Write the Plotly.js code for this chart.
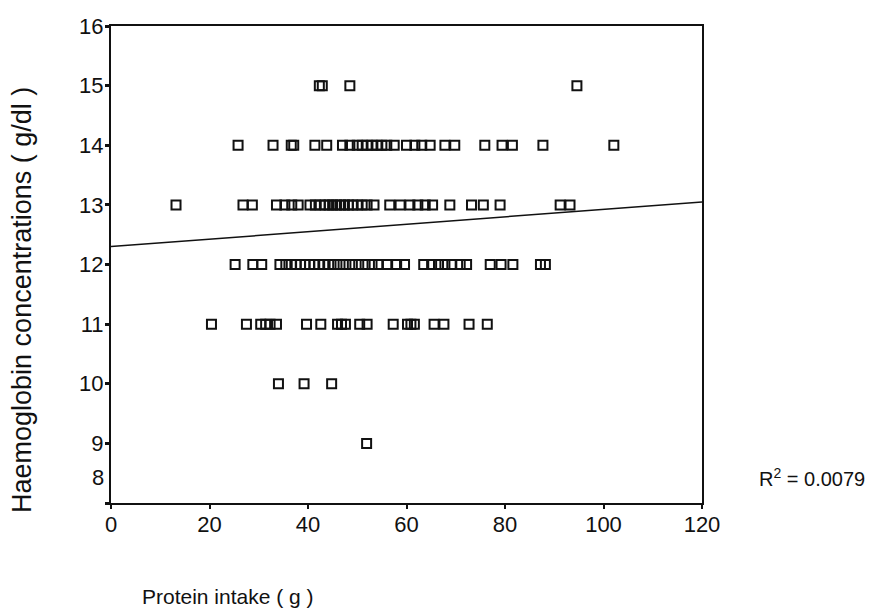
<!DOCTYPE html>
<html>
<head>
<meta charset="utf-8">
<script src="https://cdn.plot.ly/plotly-3.0.1.min.js"></script>
<style>html,body{margin:0;padding:0;background:#fff;}#chart{width:874px;height:610px;}</style>
</head>
<body>
<div id="chart"></div>
<script>
// Observed points (protein intake in g, haemoglobin in g/dl)
const protein = [
  42.3, 42.9, 48.5, 94.6,
  25.8, 32.9, 36.6, 37.1, 41.4, 43.8, 47, 48.5, 50, 51, 52, 53, 54, 55, 56, 57.5, 60, 61.7, 63.1, 64.8, 67.8, 69.8, 75.9, 79.4, 81.5, 87.7, 102.1,
  13.2, 26.8, 28.7, 33.6, 35.3, 36.7, 38, 40.4, 41.5, 42.5, 43.5, 44.3, 45, 45.8, 46.6, 47.4, 48.2, 49, 50, 51, 52, 53.4, 56.6, 58.7, 60.7, 62.3, 63.8, 65.3, 68.8, 73.2, 75.6, 79, 91.2, 93.2,
  25.2, 28.8, 30.6, 34.3, 35.5, 36.6, 37.6, 38.5, 39.4, 40.3, 41.2, 42.2, 43.2, 44.2, 45.3, 46.5, 47.7, 49, 50.3, 51.6, 53, 54.3, 56, 58, 59.6, 63.5, 65.1, 66.5, 67.8, 69.2, 70.9, 72.2, 77, 79.2, 81.6, 87.2, 88.2,
  20.4, 27.5, 30.4, 31.4, 32.3, 33.6, 39.7, 42.6, 46, 46.8, 47.6, 50.5, 52, 57.3, 60.2, 60.9, 61.6, 65.6, 67.6, 72.7, 76.4,
  34, 39.2, 44.8,
  51.9
];
const haemoglobin = [
  15, 15, 15, 15,
  14, 14, 14, 14, 14, 14, 14, 14, 14, 14, 14, 14, 14, 14, 14, 14, 14, 14, 14, 14, 14, 14, 14, 14, 14, 14, 14,
  13, 13, 13, 13, 13, 13, 13, 13, 13, 13, 13, 13, 13, 13, 13, 13, 13, 13, 13, 13, 13, 13, 13, 13, 13, 13, 13, 13, 13, 13, 13, 13, 13, 13,
  12, 12, 12, 12, 12, 12, 12, 12, 12, 12, 12, 12, 12, 12, 12, 12, 12, 12, 12, 12, 12, 12, 12, 12, 12, 12, 12, 12, 12, 12, 12, 12, 12, 12, 12, 12, 12,
  11, 11, 11, 11, 11, 11, 11, 11, 11, 11, 11, 11, 11, 11, 11, 11, 11, 11, 11, 11, 11,
  10, 10, 10,
  9
];
// Fitted linear regression line endpoints
const fitX = [0, 120];
const fitY = [12.3, 13.05];
// Axis ticks
const xTicks = [0, 20, 40, 60, 80, 100, 120];
const yTicks = [8, 9, 10, 11, 12, 13, 14, 15, 16];
const yTickText = ['', '9', '10', '11', '12', '13', '14', '15', '16'];
const rSquared = '0.0079';

const font = '"Liberation Sans", Arial, sans-serif';

const traces = [
  {
    x: fitX, y: fitY, type: 'scatter', mode: 'lines',
    line: {color: '#111', width: 1.5}, hoverinfo: 'skip', showlegend: false
  },
  {
    x: protein, y: haemoglobin, type: 'scatter', mode: 'markers',
    marker: {symbol: 'square-open', size: 9, color: '#111', line: {color: '#111', width: 2}},
    showlegend: false
  }
];

const layout = {
  width: 874, height: 610,
  margin: {l: 111, r: 172, t: 26, b: 107},
  paper_bgcolor: '#ffffff', plot_bgcolor: '#ffffff',
  showlegend: false,
  xaxis: {
    range: [0, 120], tickvals: xTicks, ticks: 'outside', ticklen: 4, tickwidth: 2, tickcolor: '#111',
    showline: true, linecolor: '#111', linewidth: 2, mirror: true,
    showgrid: false, zeroline: false, ticklabelstandoff: -3,
    tickfont: {family: font, size: 22, color: '#111'}
  },
  yaxis: {
    range: [8, 16], tickvals: yTicks, ticktext: yTickText, ticks: 'outside', ticklen: 4, tickwidth: 3, tickcolor: '#111',
    showline: true, linecolor: '#111', linewidth: 2, mirror: true,
    showgrid: false, zeroline: false, ticklabelstandoff: -3,
    tickfont: {family: font, size: 22, color: '#111'}
  },
  annotations: [
    {text: '8', xref: 'paper', yref: 'y', x: 0, y: 8, xanchor: 'right', yanchor: 'middle',
     xshift: -5, yshift: 26, showarrow: false, font: {family: font, size: 22, color: '#111'}},
    {text: 'Haemoglobin concentrations ( g/dl )', xref: 'paper', yref: 'paper', x: -0.1506, y: 0.4256,
     xanchor: 'center', yanchor: 'middle', textangle: -90, showarrow: false,
     font: {family: font, size: 27, color: '#111'}},
    {text: 'Protein intake ( g )', xref: 'paper', yref: 'paper', x: 0.049, y: -0.197,
     xanchor: 'left', yanchor: 'middle', showarrow: false,
     font: {family: font, size: 21, color: '#111'}},
    {text: 'R<sup>2</sup> = ' + rSquared, xref: 'paper', yref: 'paper', x: 1.093, y: 0.0545,
     xanchor: 'left', yanchor: 'middle', showarrow: false,
     font: {family: font, size: 20, color: '#111'}}
  ]
};

Plotly.newPlot('chart', traces, layout, {displayModeBar: false, staticPlot: true});
</script>
</body>
</html>
